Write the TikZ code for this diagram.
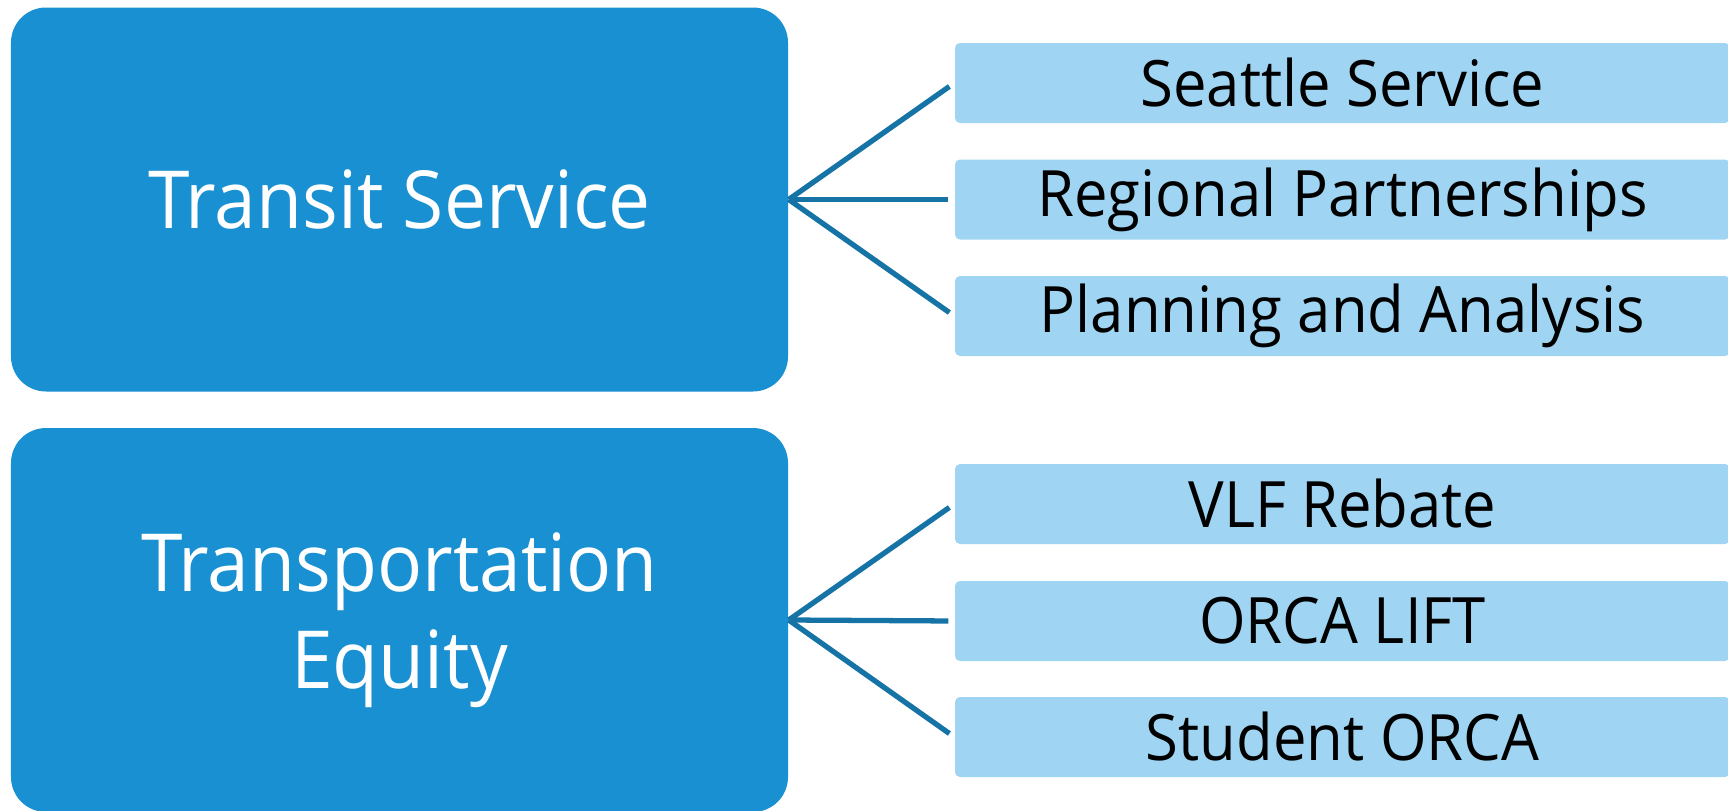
\documentclass[tikz,border=0pt]{standalone}
\usepackage{xcolor}
\usepackage{fontspec}
\setmainfont{Open Sans}[FakeStretch=0.935]
\usepackage{tikz}
\usetikzlibrary{positioning}
\definecolor{boxblue}{RGB}{25,144,209}
\definecolor{lightblue}{RGB}{159,213,242}
\definecolor{linkblue}{RGB}{21,115,166}

\begin{document}
\begin{tikzpicture}
  [
    Main/.style={rectangle, fill=boxblue, rounded corners=0.35cm, minimum width=7.77cm, minimum height=3.84cm, inner sep=0pt, align=center, text=white, font=\fontsize{22.8}{27.6}\selectfont},
    Sub/.style={rectangle, fill=lightblue, rounded corners=0.05cm, minimum width=7.75cm, minimum height=0.80cm, inner sep=0pt, text=black, font=\fontsize{18.2}{22}\selectfont},
    Link/.style={draw=linkblue, line width=1.5pt, shorten >=0.06cm}
  ]
  \useasboundingbox (0,0) rectangle (17.28,8.10);
  % Nodes
  \node[Main] (transit) at(3.995, 6.105) {Transit Service};
  \node[Main] (equity) at(3.995, 1.90) {Transportation\\Equity};
  \node[Sub] (seattle) at(13.425, 7.27) {Seattle Service};
  \node[Sub] (regional) at(13.425, 6.105) {Regional Partnerships};
  \node[Sub] (planning) at(13.425, 4.94) {Planning and Analysis};
  \node[Sub] (vlf) at(13.425, 3.06) {VLF Rebate};
  \node[Sub] (lift) at(13.425, 1.89) {ORCA LIFT};
  \node[Sub] (student) at(13.425, 0.73) {Student ORCA};
  % Lines
  \path [Link] (transit.east) -- (seattle.west);
  \path [Link] (transit.east) -- (regional.west);
  \path [Link] (transit.east) -- (planning.west);
  \path [Link] (equity.east) -- (vlf.west);
  \path [Link] (equity.east) -- (lift.west);
  \path [Link] (equity.east) -- (student.west);
\end{tikzpicture}
\end{document}
